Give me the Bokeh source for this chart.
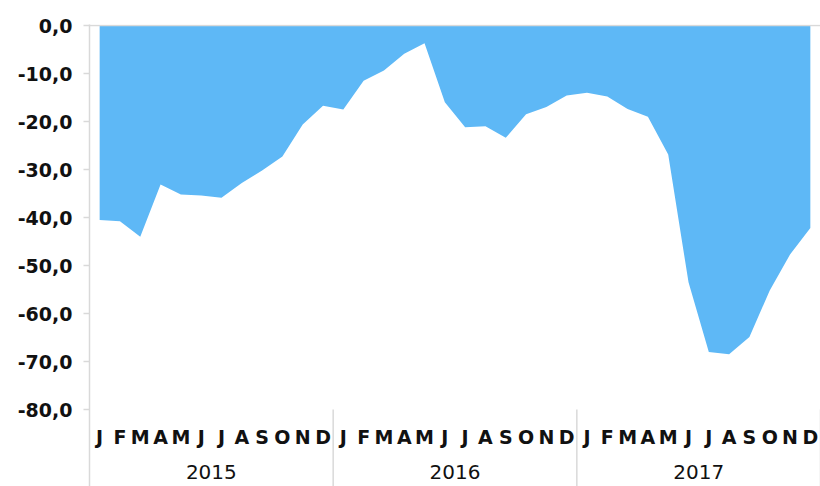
from bokeh.plotting import figure
from bokeh.models import Range1d, FixedTicker, Span
from bokeh.embed import file_html
from bokeh.resources import INLINE
from bokeh.core.properties import value

# ---- data ----
years = ["2015", "2016", "2017"]
months = ["J", "F", "M", "A", "M", "J", "J", "A", "S", "O", "N", "D"]
values = [
    -40.5, -40.8, -44.0, -33.1, -35.2, -35.4, -35.9, -32.8, -30.2, -27.3, -20.6, -16.7,   # 2015
    -17.5, -11.5, -9.4, -5.9, -3.7, -16.0, -21.2, -21.0, -23.4, -18.5, -17.0, -14.6,     # 2016
    -14.0, -14.8, -17.4, -19.0, -26.9, -53.5, -68.0, -68.5, -64.9, -55.2, -47.7, -42.2,  # 2017
]
y_ticks = [0, -10, -20, -30, -40, -50, -60, -70, -80]
y_tick_labels = ["0,0", "-10,0", "-20,0", "-30,0", "-40,0", "-50,0", "-60,0", "-70,0", "-80,0"]

FILL = "#5eb8f6"
GREY = "#d9d9d9"
FONT = "DejaVu Sans"

n = len(values)
xs = [i + 0.5 for i in range(n)]
month_labels = [months[i % 12] for i in range(n)]
year_centers = [12 * i + 6 for i in range(len(years))]
year_bounds = [12 * (i + 1) for i in range(len(years))]

y_bottom = y_ticks[-1] - 16.04
p = figure(width=820, height=486, output_backend="svg", toolbar_location=None,
           x_range=Range1d(0, n), y_range=Range1d(y_bottom, 5 / 24),
           x_axis_location=None, min_border_left=89, min_border_right=0,
           min_border_top=24, min_border_bottom=0)
p.outline_line_color = None
p.xgrid.visible = False
p.ygrid.visible = False

p.varea(x=xs, y1=values, y2=0, fill_color=FILL)

p.add_layout(Span(location=0, dimension="width", line_color=GREY, line_width=1.5))

p.segment(x0=year_bounds, x1=year_bounds, y0=y_ticks[-1], y1=y_bottom,
          line_color=GREY, line_width=1.5)

p.text(x=xs, y=-85.8, text=month_labels, text_align="center", text_baseline="middle",
       text_font=value(FONT), text_font_style="bold", text_font_size="19px", text_color="#111111")
p.text(x=year_centers, y=-93.0, text=years, text_align="center", text_baseline="middle",
       text_font=value(FONT), text_font_size="20px", text_color="#111111")

ax = p.yaxis[0]
ax.ticker = FixedTicker(ticks=y_ticks)
ax.major_label_overrides = {t: l for t, l in zip(y_ticks, y_tick_labels)}
ax.axis_line_color = GREY
ax.axis_line_width = 1.5
ax.major_tick_line_color = GREY
ax.major_tick_line_width = 1.5
ax.major_tick_out = 6
ax.major_tick_in = 0
ax.minor_tick_line_color = None
ax.major_label_standoff = 11
ax.major_label_text_font = FONT
ax.major_label_text_font_style = "bold"
ax.major_label_text_font_size = "19px"
ax.major_label_text_color = "#111111"

open("out.html", "w").write(file_html(p, INLINE))
